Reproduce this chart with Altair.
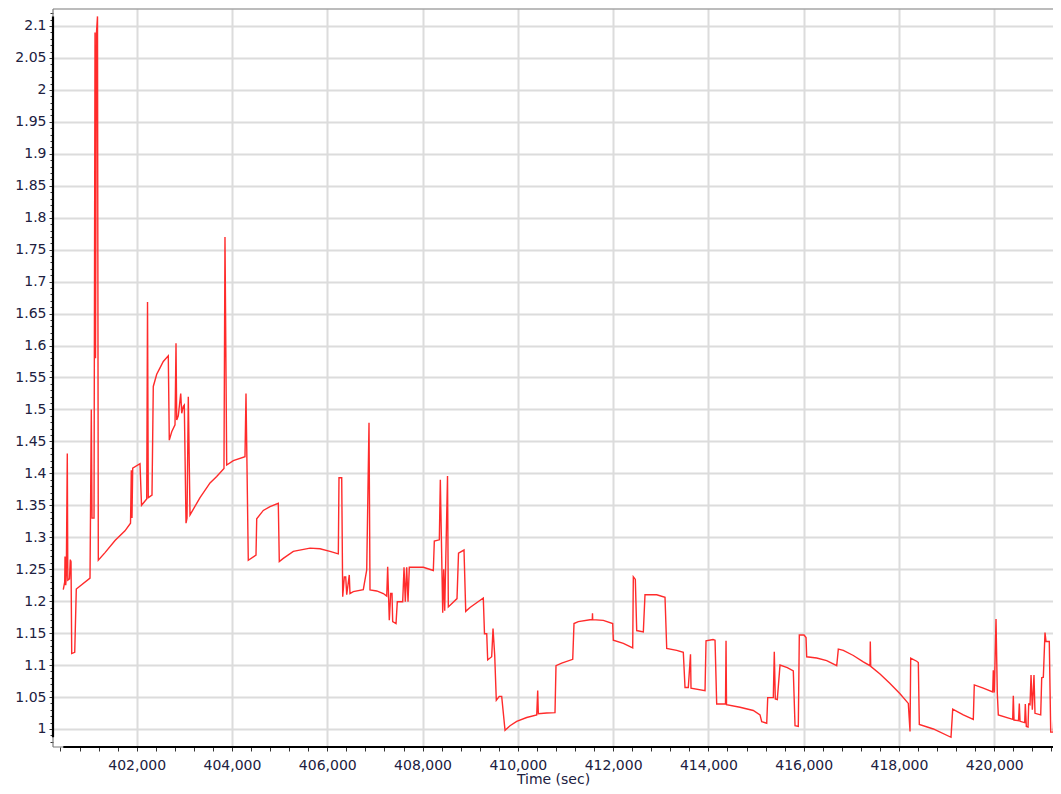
import altair as alt
import pandas as pd

time_sec = [
    400459, 400489, 400495, 400510, 400522, 400543, 400554, 400589, 400606, 400621,
    400636, 400699, 400732, 401020, 401047, 401062, 401104, 401125, 401135, 401156,
    401177, 401194, 401335, 401545, 401754, 401870, 401887, 401901, 401916, 402069,
    402101, 402210, 402227, 402243, 402321, 402348, 402420, 402489, 402558, 402663,
    402684, 402735, 402804, 402825, 402840, 402873, 402924, 402945, 402978, 402999,
    403035, 403056, 403083, 403119, 403329, 403539, 403679, 403832, 403853, 403889,
    404028, 404273, 404294, 404342, 404504, 404519, 404657, 404798, 404972, 404993,
    405077, 405287, 405638, 405847, 406057, 406232, 406246, 406303, 406324, 406358,
    406387, 406408, 406462, 406477, 406546, 406756, 406828, 406876, 406897, 407038,
    407176, 407248, 407268, 407302, 407331, 407359, 407373, 407443, 407470, 407583,
    407611, 407638, 407667, 407695, 407722, 408016, 408226, 408247, 408352, 408373,
    408423, 408444, 408465, 408524, 408541, 408723, 408755, 408870, 408906, 408996,
    409275, 409300, 409347, 409367, 409451, 409479, 409514, 409548, 409611, 409661,
    409731, 409836, 409976, 410186, 410396, 410417, 410430, 410606, 410780, 410801,
    410921, 411152, 411179, 411269, 411515, 411563, 411567, 411571, 411794, 411991,
    412004, 412214, 412411, 412424, 412466, 412495, 412634, 412669, 412915, 413089,
    413125, 413335, 413473, 413509, 413578, 413624, 413635, 413929, 413950, 414097,
    414139, 414174, 414359, 414370, 414380, 414663, 414942, 415083, 415119, 415224,
    415245, 415362, 415383, 415404, 415446, 415503, 415656, 415782, 415818, 415887,
    415908, 416007, 416049, 416063, 416273, 416483, 416693, 416727, 416832, 417042,
    417251, 417392, 417398, 417407, 417602, 417812, 418022, 418196, 418232, 418246,
    418372, 418406, 418427, 418721, 419092, 419128, 419350, 419560, 419581, 419770,
    419968, 419980, 420001, 420037, 420064, 420085, 420387, 420400, 420415, 420509,
    420526, 420541, 420639, 420652, 420673, 420709, 420723, 420751, 420772, 420799,
    420834, 420855, 420975, 420996, 421030, 421065, 421086, 421155, 421185, 421240,
    421261, 421380,
]

value = [
    1.218, 1.23, 1.27, 1.225, 1.24, 1.431, 1.233, 1.235, 1.265, 1.262,
    1.118, 1.12, 1.219, 1.236, 1.50, 1.33, 1.33, 2.09, 1.58, 2.09,
    2.115, 1.264, 1.276, 1.295, 1.31, 1.322, 1.405, 1.33, 1.408, 1.415,
    1.35, 1.36, 1.668, 1.362, 1.366, 1.536, 1.555, 1.565, 1.575, 1.584,
    1.452, 1.465, 1.476, 1.6035, 1.4835, 1.49, 1.525, 1.494, 1.505, 1.507,
    1.322, 1.33, 1.52, 1.335, 1.362, 1.385, 1.395, 1.4075, 1.77, 1.413,
    1.42, 1.426, 1.525, 1.264, 1.272, 1.329, 1.342, 1.348, 1.353, 1.262,
    1.267, 1.278, 1.283, 1.282, 1.278, 1.274, 1.393, 1.393, 1.207, 1.238,
    1.238, 1.21, 1.241, 1.212, 1.215, 1.218, 1.249, 1.479, 1.2175, 1.216,
    1.212, 1.208, 1.254, 1.17, 1.212, 1.212, 1.168, 1.165, 1.199, 1.199,
    1.253, 1.199, 1.253, 1.199, 1.253, 1.253, 1.248, 1.294, 1.296, 1.39,
    1.182, 1.25, 1.185, 1.396, 1.191, 1.204, 1.275, 1.28, 1.184, 1.19,
    1.205, 1.149, 1.149, 1.108, 1.113, 1.157, 1.116, 1.045, 1.051, 1.051,
    0.998, 1.005, 1.012, 1.018, 1.022, 1.06, 1.024, 1.025, 1.0255, 1.099,
    1.103, 1.109, 1.165, 1.168, 1.171, 1.171, 1.181, 1.171, 1.170, 1.165,
    1.139, 1.134, 1.127, 1.238, 1.234, 1.154, 1.152, 1.21, 1.21, 1.206,
    1.126, 1.123, 1.12, 1.065, 1.065, 1.117, 1.064, 1.06, 1.138, 1.14,
    1.139, 1.039, 1.039, 1.138, 1.038, 1.034, 1.029, 1.022, 1.0114, 1.009,
    1.049, 1.049, 1.121, 1.047, 1.046, 1.10, 1.096, 1.091, 1.005, 1.004,
    1.147, 1.147, 1.143, 1.113, 1.111, 1.107, 1.099, 1.125, 1.123, 1.115,
    1.105, 1.099, 1.137, 1.098, 1.086, 1.071, 1.055, 1.04, 0.996, 1.111,
    1.106, 1.104, 1.007, 1.0, 0.987, 1.031, 1.022, 1.015, 1.069, 1.064,
    1.058, 1.092, 1.057, 1.172, 1.056, 1.022, 1.015, 1.052, 1.014, 1.013,
    1.04, 1.012, 1.01, 1.039, 1.004, 1.003, 1.039, 1.038, 1.0845, 1.03,
    1.0845, 1.0245, 1.022, 1.08, 1.081, 1.151, 1.137, 1.137, 0.995, 0.995,
    1.05, 1.05,
]

x_major = [402000, 404000, 406000, 408000, 410000, 412000, 414000,
           416000, 418000, 420000]
y_major = [1.0, 1.05, 1.1, 1.15, 1.2, 1.25, 1.3, 1.35, 1.4, 1.45, 1.5, 1.55,
           1.6, 1.65, 1.7, 1.75, 1.8, 1.85, 1.9, 1.95, 2.0, 2.05, 2.1]
x_minor = [t for t in range(400400, 421201, 400) if t % 2000 != 0]
y_minor = [round(0.98 + 0.01 * i, 2) for i in range(115)]

X_DOMAIN = [400243, 421233]
Y_DOMAIN = [0.9718, 2.1266]

n = min(len(time_sec), len(value))
df = pd.DataFrame({"t": time_sec[:n], "v": value[:n], "idx": list(range(n))})

xs = alt.Scale(domain=X_DOMAIN, nice=False, zero=False)
ys = alt.Scale(domain=Y_DOMAIN, nice=False, zero=False)

line = alt.Chart(df).mark_line(color="#ff2b2b", strokeWidth=1.4, clip=True).encode(
    x=alt.X("t:Q", scale=xs, axis=alt.Axis(values=x_major, format=",d", title="Time (sec)",
                                           grid=True, tickSize=4, labelPadding=7,
                                           titlePadding=0, orient="bottom")),
    y=alt.Y("v:Q", scale=ys, axis=alt.Axis(values=y_major, format="~g", title=None,
                                           grid=True, tickSize=4, labelPadding=3,
                                           orient="left")),
    order="idx:Q",
)

minor = alt.Chart(df).mark_point(opacity=0).encode(
    x=alt.X("t:Q", scale=xs, axis=alt.Axis(values=x_minor, labels=False, grid=False,
                                           tickSize=4, title=None, orient="bottom")),
    y=alt.Y("v:Q", scale=ys, axis=alt.Axis(values=y_minor, labels=False, grid=False,
                                           tickSize=3, title=None, orient="left")),
)

# gray frame (top, left, bottom) - the right side lies beyond the window in the original
frame_h = pd.DataFrame({"t": [X_DOMAIN[0]] * 2, "t2": [X_DOMAIN[1]] * 2,
                        "v": [Y_DOMAIN[0], Y_DOMAIN[1]]})
frame_v = pd.DataFrame({"t": [X_DOMAIN[0]], "v": [Y_DOMAIN[0]], "v2": [Y_DOMAIN[1]]})

frame_hr = alt.Chart(frame_h).mark_rule(color="#7a7a7a", strokeWidth=1.2).encode(
    x=alt.X("t:Q", scale=xs, axis=None), x2="t2:Q",
    y=alt.Y("v:Q", scale=ys, axis=None),
)
frame_vr = alt.Chart(frame_v).mark_rule(color="#7a7a7a", strokeWidth=1.2).encode(
    x=alt.X("t:Q", scale=xs, axis=None),
    y=alt.Y("v:Q", scale=ys, axis=None), y2="v2:Q",
)

# black axis lines spanning the data extent
hdf = pd.DataFrame({"t": [min(time_sec)], "t2": [min(max(time_sec), X_DOMAIN[1])],
                    "v": [Y_DOMAIN[0]]})
vdf = pd.DataFrame({"t": [X_DOMAIN[0]], "v": [min(value)], "v2": [max(value)]})

hrule = alt.Chart(hdf).mark_rule(color="#000000", strokeWidth=2.2).encode(
    x=alt.X("t:Q", scale=xs, axis=None), x2="t2:Q",
    y=alt.Y("v:Q", scale=ys, axis=None),
)
vrule = alt.Chart(vdf).mark_rule(color="#000000", strokeWidth=2.2).encode(
    x=alt.X("t:Q", scale=xs, axis=None),
    y=alt.Y("v:Q", scale=ys, axis=None), y2="v2:Q",
)

chart = alt.layer(line, minor, frame_hr, frame_vr, hrule, vrule).resolve_axis(
    x="independent", y="independent"
).properties(
    width=1000,
    height=738,
    padding={"left": 45, "top": 1, "right": 0, "bottom": 39},
    autosize=alt.AutoSizeParams(type="none"),
).configure_axis(
    labelFont="DejaVu Sans",
    labelFontSize=14,
    labelColor="#202040",
    titleFont="DejaVu Sans",
    titleFontSize=14,
    titleFontWeight="normal",
    titleColor="#202040",
    tickColor="#333333",
    gridColor="#dcdcdc",
    gridWidth=2,
    domain=False,
).configure_view(
    stroke=None,
    strokeWidth=0,
)

chart.save("out.html", embed_options={"renderer": "svg", "actions": False})
